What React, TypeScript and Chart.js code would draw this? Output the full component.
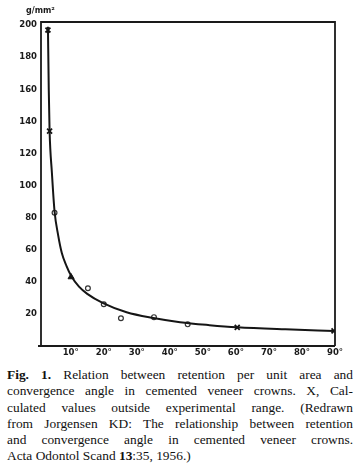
import React, { useEffect, useRef } from "react";
import { Chart, registerables } from "chart.js";

Chart.register(...registerables);

// Fitted curve
const curveX = [3.1, 3.35, 3.6, 4.3, 5.1, 6.2, 7.3, 8.7, 10.2, 12.5, 15, 19.8, 26.9, 35, 43.1, 52, 60.4, 75, 89.7];
const curveY = [199, 160, 134, 108, 84, 69, 58, 50, 43.5, 37, 32.5, 26.7, 21, 17.4, 14.8, 13, 11.7, 10.4, 9.4];

// Calculated values outside experimental range (X marks)
const calcX = [3.1, 3.6, 60.4, 89.7];
const calcY = [197, 134, 11.6, 9.4];

// Experimental values (open circles)
const expX = [5.1, 15.2, 20, 25.2, 35.2, 45.4];
const expY = [83, 36, 26, 17.3, 18, 13.5];

// Filled point
const solidX = [10.1];
const solidY = [43];

const yTicks = [20, 40, 60, 80, 100, 120, 140, 160, 180, 200];
const xTicks = [10, 20, 30, 40, 50, 60, 70, 80, 90];
const unitLabel = "g/mm²";

const toPts = (xs: number[], ys: number[]) => xs.map((x, i) => ({ x, y: ys[i] }));

const boxPlugin = {
  id: "box",
  afterDraw(chart: any) {
    const { ctx, chartArea: a } = chart;
    ctx.save();
    ctx.strokeStyle = "#1a1a1a";
    ctx.lineWidth = 1.8;
    ctx.beginPath();
    ctx.moveTo(a.left, a.bottom);
    ctx.lineTo(a.left, a.top);
    ctx.lineTo(a.right, a.top);
    ctx.lineTo(a.right, a.bottom);
    ctx.moveTo(a.left - 3, a.bottom);
    ctx.lineTo(a.right, a.bottom);
    ctx.stroke();
    ctx.restore();
  },
};

const captionLines = [
  "Relation between retention per unit area and",
  "convergence angle in cemented veneer crowns. X, Cal-",
  "culated values outside experimental range. (Redrawn",
  "from Jorgensen KD: The relationship between retention",
  "and convergence angle in cemented veneer crowns.",
];

export default function App() {
  const ref = useRef<HTMLCanvasElement>(null);
  useEffect(() => {
    if (!ref.current) return;
    const tickFont = { family: "'DejaVu Sans', sans-serif", size: 8.5, weight: "bold" as const };
    const chart = new Chart(ref.current, {
      type: "scatter",
      data: {
        datasets: [
          {
            type: "line",
            data: toPts(curveX, curveY),
            borderColor: "#151515",
            borderWidth: 2,
            pointRadius: 0,
            cubicInterpolationMode: "monotone",
            fill: false,
          },
          {
            data: toPts(calcX, calcY),
            pointStyle: "crossRot",
            pointRadius: 3.5,
            borderColor: "#151515",
            borderWidth: 1.8,
            backgroundColor: "#151515",
          },
          {
            data: toPts(expX, expY),
            pointStyle: "circle",
            pointRadius: 2.4,
            borderColor: "#333",
            borderWidth: 1.2,
            backgroundColor: "#fff",
          },
          {
            data: toPts(solidX, solidY),
            pointStyle: "triangle",
            pointRadius: 3.5,
            borderColor: "#151515",
            borderWidth: 1,
            backgroundColor: "#151515",
          },
        ],
      },
      options: {
        animation: false,
        responsive: false,
        layout: { padding: { left: 0, top: 22, right: 28, bottom: 0 } },
        plugins: { legend: { display: false }, tooltip: { enabled: false } },
        scales: {
          x: {
            type: "linear",
            min: 1,
            max: 90,
            afterBuildTicks: (s: any) => {
              s.ticks = xTicks.map((v) => ({ value: v }));
            },
            afterFit: (s: any) => {
              s.height = 19;
            },
            grid: { display: false, drawTicks: false },
            border: { display: false },
            ticks: {
              color: "#1a1a1a",
              font: tickFont,
              padding: 2,
              maxRotation: 0,
              autoSkip: false,
              callback: (v: any) => `${v}°`,
            },
          },
          y: {
            type: "linear",
            min: 0,
            max: 202,
            afterBuildTicks: (s: any) => {
              s.ticks = yTicks.map((v) => ({ value: v }));
            },
            afterFit: (s: any) => {
              s.width = 41;
            },
            grid: { display: false, drawTicks: false },
            border: { display: false },
            ticks: {
              color: "#1a1a1a",
              font: tickFont,
              padding: 4,
              autoSkip: false,
            },
          },
        },
      },
      plugins: [boxPlugin],
    } as any);
    return () => chart.destroy();
  }, []);

  const lineStyle: React.CSSProperties = { textAlign: "justify", textAlignLast: "justify" as any };

  return (
    <div style={{ position: "absolute", left: 0, top: 0, width: 363, height: 467, background: "#fff", overflow: "hidden" }}>
      <canvas ref={ref} width={363} height={365} style={{ position: "absolute", left: 0, top: 0, width: 363, height: 365 }} />
      <span
        style={{
          position: "absolute",
          left: 26,
          top: 6,
          fontFamily: "'DejaVu Sans', sans-serif",
          fontWeight: "bold",
          fontSize: 8,
          color: "#1a1a1a",
        }}
      >
        {unitLabel}
      </span>
      <div
        style={{
          position: "absolute",
          left: 7,
          top: 367,
          width: 346,
          fontFamily: "'Liberation Serif', serif",
          fontSize: 13.4,
          lineHeight: "16.3px",
          color: "#111",
        }}
      >
        <div style={lineStyle}>
          <b>Fig. 1.</b> {captionLines[0]}
        </div>
        {captionLines.slice(1).map((t, i) => (
          <div key={i} style={lineStyle}>
            {t}
          </div>
        ))}
        <div>
          Acta Odontol Scand <b>13</b>:35, 1956.)
        </div>
      </div>
    </div>
  );
}
